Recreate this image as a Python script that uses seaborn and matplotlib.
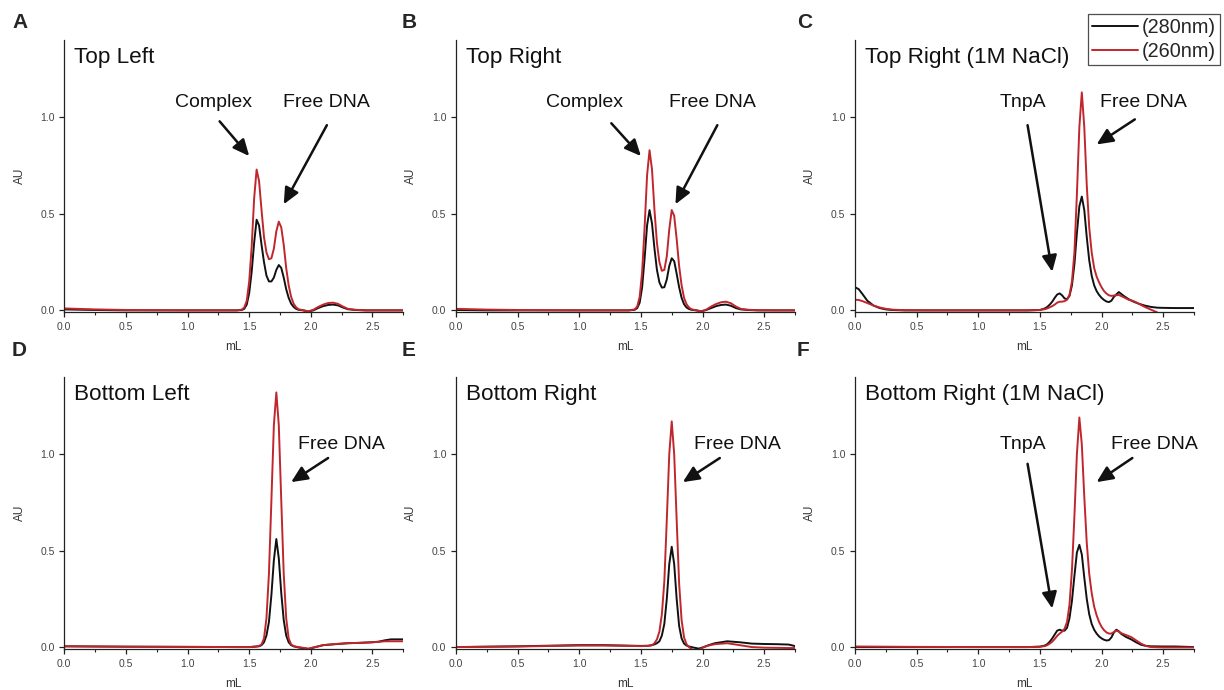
import matplotlib
matplotlib.use("Agg")
import numpy as np
import pandas as pd
import seaborn as sns
import matplotlib.pyplot as plt
from matplotlib.ticker import MultipleLocator, FormatStrFormatter
from matplotlib.lines import Line2D

# --- traces (mL, AU) ---
a_ml = [0, 0.25, 0.5, 1.0, 1.4, 1.44, 1.46, 1.48, 1.5, 1.52, 1.54, 1.56, 1.58, 1.6, 1.62, 1.64,
        1.66, 1.68, 1.7, 1.72, 1.74, 1.76, 1.78, 1.8, 1.82, 1.84, 1.86, 1.88, 1.9, 1.94, 1.98,
        2.02, 2.06, 2.1, 2.14, 2.18, 2.22, 2.26, 2.3, 2.36, 2.45, 2.6, 2.75]
a_280 = [0.005, 0.002, 0.0, 0.0, 0.0, 0.002, 0.008, 0.03, 0.09, 0.2, 0.35, 0.47, 0.44, 0.34, 0.25,
         0.18, 0.15, 0.15, 0.17, 0.21, 0.235, 0.22, 0.17, 0.11, 0.065, 0.035, 0.018, 0.008, 0.003,
         0.0, -0.006, 0.0, 0.012, 0.022, 0.028, 0.03, 0.026, 0.015, 0.006, 0.002, 0.0, 0.0, 0.0]
a_260 = [0.01, 0.005, 0.002, 0.0, 0.0, 0.004, 0.015, 0.05, 0.15, 0.33, 0.58, 0.73, 0.67, 0.52, 0.38,
         0.3, 0.265, 0.27, 0.32, 0.41, 0.46, 0.43, 0.34, 0.22, 0.13, 0.07, 0.035, 0.016, 0.006,
         0.0, -0.005, 0.003, 0.018, 0.03, 0.038, 0.04, 0.034, 0.02, 0.008, 0.003, 0.0, 0.0, 0.0]

b_ml = [0, 0.25, 0.5, 1.0, 1.4, 1.45, 1.47, 1.49, 1.51, 1.53, 1.55, 1.57, 1.59, 1.61, 1.63, 1.65,
        1.67, 1.69, 1.71, 1.73, 1.75, 1.77, 1.79, 1.81, 1.83, 1.85, 1.87, 1.89, 1.91, 1.95, 1.99,
        2.03, 2.07, 2.11, 2.15, 2.19, 2.23, 2.27, 2.31, 2.37, 2.45, 2.6, 2.75]
b_280 = [0.002, 0.0, 0.0, 0.0, 0.0, 0.003, 0.012, 0.04, 0.12, 0.27, 0.44, 0.52, 0.45, 0.32, 0.21,
         0.145, 0.118, 0.12, 0.16, 0.23, 0.27, 0.255, 0.19, 0.12, 0.065, 0.032, 0.015, 0.007, 0.003,
         0.0, -0.005, 0.002, 0.012, 0.022, 0.028, 0.03, 0.024, 0.012, 0.005, 0.002, 0.0, 0.0, 0.0]
b_260 = [0.008, 0.004, 0.002, 0.0, 0.0, 0.005, 0.02, 0.07, 0.2, 0.43, 0.7, 0.83, 0.73, 0.52, 0.35,
         0.25, 0.205, 0.21, 0.28, 0.42, 0.52, 0.49, 0.37, 0.23, 0.13, 0.065, 0.032, 0.015, 0.006,
         0.0, -0.005, 0.004, 0.02, 0.033, 0.042, 0.045, 0.037, 0.02, 0.008, 0.003, 0.001, 0.0, 0.0]

c_ml = [0, 0.03, 0.06, 0.1, 0.15, 0.2, 0.25, 0.3, 0.4, 0.6, 1.0, 1.4, 1.5, 1.54, 1.56, 1.58, 1.6,
        1.62, 1.64, 1.66, 1.68, 1.7, 1.72, 1.74, 1.76, 1.78, 1.8, 1.82, 1.84, 1.86, 1.88, 1.9, 1.92,
        1.94, 1.96, 1.98, 2.0, 2.02, 2.04, 2.06, 2.08, 2.1, 2.14, 2.18, 2.22, 2.26, 2.3, 2.35, 2.4,
        2.45, 2.5, 2.6, 2.75]
c_280 = [0.12, 0.11, 0.085, 0.05, 0.025, 0.012, 0.005, 0.002, 0.0, 0.0, 0.0, 0.0, 0.002,
         0.01, 0.018, 0.03, 0.045, 0.065, 0.082, 0.088, 0.078, 0.062, 0.058, 0.075, 0.13, 0.24,
         0.4, 0.54, 0.59, 0.52, 0.38, 0.26, 0.18, 0.13, 0.1, 0.08, 0.065, 0.054, 0.046, 0.043,
         0.05, 0.07, 0.095, 0.075, 0.058, 0.045, 0.035, 0.025, 0.018, 0.014, 0.013, 0.012, 0.012]
c_260 = [0.055, 0.054, 0.048, 0.038, 0.025, 0.015, 0.008, 0.004, 0.001, 0.0, 0.0, 0.0, 0.002,
         0.006, 0.01, 0.016, 0.022, 0.03, 0.04, 0.045, 0.045, 0.048, 0.055, 0.08, 0.15, 0.3,
         0.6, 0.95, 1.13, 0.95, 0.65, 0.43, 0.3, 0.22, 0.175, 0.145, 0.12, 0.1, 0.087, 0.078,
         0.075, 0.077, 0.08, 0.068, 0.055, 0.048, 0.035, 0.018, 0.004, -0.01]

d_ml = [0, 0.5, 1.0, 1.4, 1.5, 1.55, 1.58, 1.6, 1.62, 1.64, 1.66, 1.68, 1.7, 1.72, 1.74, 1.76,
        1.78, 1.8, 1.82, 1.84, 1.86, 1.88, 1.9, 1.94, 1.98, 2.02, 2.1, 2.2, 2.3, 2.4, 2.5, 2.55,
        2.6, 2.65, 2.7, 2.75]
d_280 = [0.004, 0.002, 0.001, 0.0, 0.0, 0.002, 0.004, 0.01, 0.025, 0.06, 0.13, 0.27, 0.45, 0.56,
         0.46, 0.28, 0.14, 0.06, 0.025, 0.01, 0.004, 0.001, -0.002, -0.006, -0.01, -0.003, 0.01,
         0.015, 0.02, 0.022, 0.025, 0.028, 0.035, 0.04, 0.04, 0.04]
d_260 = [0.004, 0.002, 0.001, 0.0, 0.0, 0.003, 0.006, 0.014, 0.045, 0.15, 0.38, 0.76, 1.15, 1.32,
         1.15, 0.76, 0.38, 0.15, 0.045, 0.014, 0.005, 0.002, 0.0, -0.004, -0.008, -0.002, 0.01,
         0.016, 0.02, 0.022, 0.025, 0.027, 0.03, 0.03, 0.03, 0.03]

e_ml = [0, 0.5, 1.0, 1.2, 1.5, 1.56, 1.59, 1.61, 1.63, 1.65, 1.67, 1.69, 1.71, 1.73, 1.75, 1.77,
        1.79, 1.81, 1.83, 1.85, 1.87, 1.89, 1.91, 1.93, 1.97, 2.01, 2.05, 2.1, 2.2, 2.3, 2.4, 2.5,
        2.6, 2.7, 2.75]
e_280 = [0.0, 0.004, 0.01, 0.01, 0.006, 0.007, 0.01, 0.014, 0.02, 0.03, 0.06, 0.12, 0.25, 0.43,
         0.52, 0.43, 0.25, 0.11, 0.045, 0.018, 0.008, 0.003, 0.0, -0.003, -0.008, 0.0, 0.01, 0.02,
         0.03, 0.025, 0.018, 0.016, 0.015, 0.013, 0.005]
e_260 = [0.0, 0.003, 0.008, 0.008, 0.005, 0.006, 0.01, 0.02, 0.04, 0.08, 0.17, 0.34, 0.66, 1.0,
         1.17, 1.0, 0.66, 0.33, 0.14, 0.05, 0.015, 0.0, -0.01, -0.02, -0.015, 0.0, 0.008, 0.015,
         0.02, 0.01, 0.0, -0.003, -0.004, -0.005, -0.005]

f_ml = [0, 0.5, 1.0, 1.4, 1.5, 1.54, 1.56, 1.58, 1.6, 1.62, 1.64, 1.66, 1.68, 1.7, 1.72, 1.74,
        1.76, 1.78, 1.8, 1.82, 1.84, 1.86, 1.88, 1.9, 1.92, 1.94, 1.96, 1.98, 2.0, 2.02, 2.04,
        2.06, 2.08, 2.1, 2.12, 2.14, 2.16, 2.2, 2.24, 2.28, 2.32, 2.36, 2.4, 2.5, 2.6, 2.75]
f_280 = [0.0, 0.0, 0.0, 0.0, 0.002, 0.008, 0.015, 0.028, 0.045, 0.065, 0.085, 0.09, 0.085, 0.085,
         0.1, 0.15, 0.24, 0.37, 0.49, 0.53, 0.48, 0.36, 0.25, 0.17, 0.12, 0.09, 0.07, 0.055, 0.045,
         0.038, 0.034, 0.036, 0.05, 0.075, 0.09, 0.082, 0.068, 0.052, 0.04, 0.025, 0.012, 0.006,
         0.004, 0.003, 0.003, 0.0]
f_260 = [0.003, 0.001, 0.0, 0.0, 0.002, 0.005, 0.01, 0.018, 0.028, 0.042, 0.058, 0.07, 0.08, 0.095,
         0.13, 0.22, 0.4, 0.68, 1.0, 1.19, 1.05, 0.78, 0.54, 0.38, 0.28, 0.21, 0.165, 0.13, 0.105,
         0.088, 0.076, 0.07, 0.07, 0.078, 0.085, 0.08, 0.072, 0.062, 0.052, 0.035, 0.018, 0.006,
         0.0, -0.002, -0.002, -0.002]

letters = ["A", "B", "C", "D", "E", "F"]
titles = ["Top Left", "Top Right", "Top Right (1M NaCl)",
          "Bottom Left", "Bottom Right", "Bottom Right (1M NaCl)"]
wavelengths = ["(280nm)", "(260nm)"]
colors = {"(280nm)": "#111111", "(260nm)": "#c0272d"}

# annotation: text, text position, arrow tail, arrow head (data coords)
notes = [
    [("Complex", (1.21, 1.08), (1.26, 0.98), (1.50, 0.80)),
     ("Free DNA", (2.13, 1.08), (2.13, 0.96), (1.78, 0.55))],
    [("Complex", (1.04, 1.08), (1.26, 0.97), (1.50, 0.80)),
     ("Free DNA", (2.08, 1.08), (2.12, 0.96), (1.78, 0.55))],
    [("TnpA", (1.36, 1.08), (1.40, 0.96), (1.60, 0.20)),
     ("Free DNA", (2.34, 1.08), (2.27, 0.99), (1.96, 0.86))],
    [("Free DNA", (2.25, 1.05), (2.14, 0.98), (1.84, 0.855))],
    [("Free DNA", (2.28, 1.05), (2.14, 0.98), (1.84, 0.855))],
    [("TnpA", (1.36, 1.05), (1.40, 0.95), (1.60, 0.20)),
     ("Free DNA", (2.43, 1.05), (2.25, 0.98), (1.96, 0.855))],
]

traces = [(a_ml, a_280, a_ml, a_260), (b_ml, b_280, b_ml, b_260),
          (c_ml, c_280, c_ml[:len(c_260)], c_260), (d_ml, d_280, d_ml, d_260),
          (e_ml, e_280, e_ml, e_260), (f_ml, f_280, f_ml, f_260)]

sns.set_style("ticks")
plt.rcParams["font.family"] = ["Liberation Sans", "DejaVu Sans"]

W, H = 1224, 690
fig = plt.figure(figsize=(W / 100, H / 100), dpi=100)

col_left = [64.3, 456, 855]
row_bottom = [312.3, 649]
ax_w, ax_h = 339, 272
letter_x = [12, 402, 797]
letter_y = [22, 351]

for i in range(6):
    r, c = divmod(i, 3)
    ax = fig.add_axes([col_left[c] / W, 1 - row_bottom[r] / H, ax_w / W, ax_h / H])
    x1, y1, x2, y2 = traces[i]
    df = pd.concat([
        pd.DataFrame({"mL": x1, "AU": y1, "wl": wavelengths[0]}),
        pd.DataFrame({"mL": x2, "AU": y2, "wl": wavelengths[1]}),
    ])
    sns.lineplot(data=df, x="mL", y="AU", hue="wl", palette=colors, estimator=None,
                 sort=False, linewidth=1.4, legend=False, ax=ax)

    ax.set_xlim(0, 2.75)
    ax.set_ylim(-0.01, 1.40)
    sns.despine(ax=ax)
    for s in ["left", "bottom"]:
        ax.spines[s].set_linewidth(0.9)
        ax.spines[s].set_color("#222222")
    ax.xaxis.set_major_locator(MultipleLocator(0.5))
    ax.xaxis.set_minor_locator(MultipleLocator(0.25))
    ax.yaxis.set_major_locator(MultipleLocator(0.5))
    ax.xaxis.set_major_formatter(FormatStrFormatter("%.1f"))
    ax.yaxis.set_major_formatter(FormatStrFormatter("%.1f"))
    ax.tick_params(which="major", direction="out", length=3.5, width=0.9,
                   labelsize=7.5, labelcolor="#444444", color="#222222")
    ax.tick_params(which="minor", direction="out", length=2, width=0.8, color="#222222")
    ax.set_xlabel("mL", fontsize=8.5, color="#333333", va="center")
    ax.set_ylabel("AU", fontsize=8.5, color="#333333")
    ax.xaxis.set_label_coords(0.5, -0.129)
    ax.yaxis.set_label_coords(-0.114, 0.5)

    ax.text(0.03, 0.935, titles[i], transform=ax.transAxes, fontsize=16.2,
            ha="left", va="center", color="#111111")
    for txt, txy, tail, head in notes[i]:
        ax.text(txy[0], txy[1], txt, fontsize=14, ha="center", va="center", color="#111111")
        ax.annotate("", xy=head, xytext=tail,
                    arrowprops=dict(arrowstyle="-|>,head_length=0.7,head_width=0.32",
                                    color="#111111", lw=1.8, mutation_scale=14,
                                    shrinkA=0, shrinkB=0))

    fig.text(letter_x[c] / W, 1 - letter_y[r] / H, letters[i],
             fontsize=15, fontweight="bold", ha="left", va="center")

handles = [Line2D([], [], color=colors[w], lw=1.4) for w in wavelengths]
leg = fig.legend(handles, wavelengths, loc="upper right",
                 bbox_to_anchor=(1220 / W, 1 - 14 / H), fontsize=14.3, frameon=True,
                 fancybox=False, handlelength=2.3, handletextpad=0.2,
                 labelspacing=0.25, borderpad=0.2, borderaxespad=0)
leg.get_frame().set_edgecolor("#222222")
leg.get_frame().set_linewidth(0.9)

fig.savefig("out.png", dpi=100)
